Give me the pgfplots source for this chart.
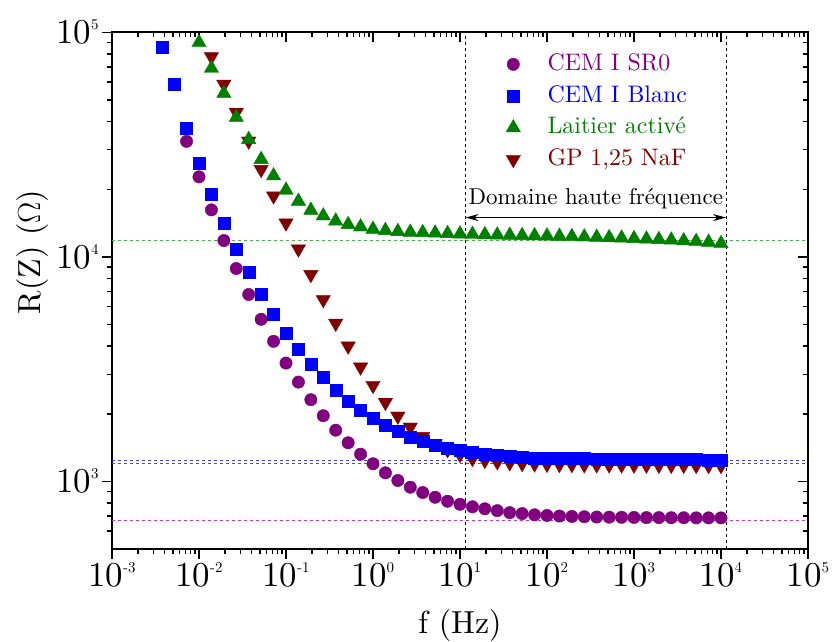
\RequirePackage{fix-cm}
\documentclass[border=0pt]{standalone}
\usepackage{fontspec}
\setmainfont{lmroman10-regular}[Extension=.otf]
\usepackage{pgfplots}
\pgfplotsset{compat=1.18}
\usetikzlibrary{arrows.meta}
\definecolor{cpur}{RGB}{128,0,128}
\definecolor{cblu}{RGB}{0,0,255}
\definecolor{cgrn}{RGB}{0,128,0}
\definecolor{cred}{RGB}{128,0,0}
\definecolor{lpur}{RGB}{190,60,200}
\definecolor{lblu}{RGB}{60,60,255}
\definecolor{lgrn}{RGB}{80,170,80}
\definecolor{lred}{RGB}{160,60,60}
\newcommand{\tl}[1]{10\raisebox{14bp}{\fontsize{15}{15}\selectfont #1}}

\pgfplotstableread{
f R
0.0071969 32680
0.01 22710
0.013895 16190
0.019307 11820
0.026827 8870
0.037276 6800
0.051795 5270
0.071969 4205
0.1 3365
0.13895 2768
0.19307 2311
0.26827 1961
0.37276 1691
0.51795 1486
0.71969 1322
1 1198
1.3895 1092
1.9307 1009
2.6827 942
3.7276 892
5.1795 850
7.1969 816
10 791
13.895 771
19.307 755
26.827 741
37.276 726
51.795 719
71.969 710
100 705
138.95 701
193.07 698
268.27 696
372.76 694
517.95 693
719.69 692
1000 691
1389.5 690
1930.7 690
2682.7 689
3727.6 689
5179.5 688
7196.9 688
10000 688
}\tabSR

\pgfplotstableread{
f R
0.0037276 85700
0.0051795 58650
0.0071969 37450
0.01 26150
0.013895 19010
0.019307 14160
0.026827 10840
0.037276 8510
0.051795 6790
0.071969 5530
0.1 4580
0.13895 3860
0.19307 3310
0.26827 2897
0.37276 2560
0.51795 2286
0.71969 2076
1 1913
1.3895 1775
1.9307 1668
2.6827 1574
3.7276 1510
5.1795 1456
7.1969 1409
10 1373
13.895 1345
19.307 1327
26.827 1309
37.276 1291
51.795 1282
71.969 1275
100 1270
138.95 1268
193.07 1266
268.27 1264
372.76 1262
517.95 1260
719.69 1258
1000 1257
1389.5 1255
1930.7 1254
2682.7 1252
3727.6 1251
5179.5 1250
7196.9 1249
10000 1248
}\tabBl

\pgfplotstableread{
f R
0.01 90000
0.013895 69100
0.019307 53460
0.026827 41790
0.037276 33340
0.051795 27160
0.071969 22950
0.1 19820
0.13895 17700
0.19307 16130
0.26827 15220
0.37276 14450
0.51795 13930
0.71969 13600
1 13280
1.3895 13100
1.9307 12970
2.6827 12880
3.7276 12830
5.1795 12760
7.1969 12700
10 12650
13.895 12600
19.307 12560
26.827 12520
37.276 12490
51.795 12450
71.969 12420
100 12390
138.95 12350
193.07 12310
268.27 12270
372.76 12230
517.95 12180
719.69 12130
1000 12070
1389.5 12010
1930.7 11950
2682.7 11880
3727.6 11800
5179.5 11720
7196.9 11620
10000 11460
}\tabLa

\pgfplotstableread{
f R
0.01 105000
0.013895 77850
0.019307 58650
0.026827 44000
0.037276 32760
0.051795 24500
0.071969 18680
0.1 14160
0.13895 10840
0.19307 8340
0.26827 6450
0.37276 5060
0.51795 4006
0.71969 3230
1 2676
1.3895 2249
1.9307 1953
2.6827 1745
3.7276 1585
5.1795 1471
7.1969 1383
10 1318
13.895 1265
19.307 1240
26.827 1222
37.276 1210
51.795 1202
71.969 1196
100 1192
138.95 1190
193.07 1188
268.27 1186
372.76 1185
517.95 1184
719.69 1183
1000 1182
1389.5 1181
1930.7 1180
2682.7 1180
3727.6 1179
5179.5 1178
7196.9 1177
10000 1176
}\tabGP

\pgfplotsset{
 sSR/.style={only marks, mark=*, mark size=6.2bp, color=cpur},
 sBl/.style={only marks, mark=square*, mark size=6bp, color=cblu},
 sLa/.style={only marks, mark=triangle*, mark size=8.3bp, color=cgrn},
 sGP/.style={only marks, mark=triangle*, mark size=8.3bp, color=cred, mark options={rotate=180}},
 hl/.style={line width=0.9bp, dash pattern=on 3bp off 3bp, forget plot},
}

\begin{document}
\begin{tikzpicture}
\useasboundingbox (0,0) rectangle (835bp,642bp);
\begin{loglogaxis}[
  at={(112bp,93bp)}, anchor=south west,
  scale only axis, width=696bp, height=516.7bp,
  xmin=1e-3, xmax=1e5, ymin=500, ymax=1e5,
  xtick={1e-3,1e-2,1e-1,1,1e1,1e2,1e3,1e4,1e5},
  ytick={1e3,1e4,1e5},
  minor xtick={2e-3,3e-3,4e-3,5e-3,6e-3,7e-3,8e-3,9e-3,
   2e-2,3e-2,4e-2,5e-2,6e-2,7e-2,8e-2,9e-2,
   0.2,0.3,0.4,0.5,0.6,0.7,0.8,0.9,
   2,3,4,5,6,7,8,9,
   20,30,40,50,60,70,80,90,
   200,300,400,500,600,700,800,900,
   2000,3000,4000,5000,6000,7000,8000,9000,
   20000,30000,40000,50000,60000,70000,80000,90000},
  minor ytick={600,700,800,900,2000,3000,4000,5000,6000,7000,8000,9000,
   20000,30000,40000,50000,60000,70000,80000,90000},
  axis line style={line width=1.8bp},
  tick style={black, line width=1.5bp},
  major tick length=10bp, minor tick length=5bp,
  xtick pos=top, ytick pos=right, tick align=inside,
  xticklabels={}, yticklabels={}]
\addplot[draw=none, forget plot] coordinates {(1,1000)};
\end{loglogaxis}
\begin{loglogaxis}[
  at={(112bp,93bp)}, anchor=south west,
  scale only axis, width=696bp, height=516.7bp,
  xmin=1e-3, xmax=1e5, ymin=500, ymax=1e5,
  xtick={1e-3,1e-2,1e-1,1,1e1,1e2,1e3,1e4,1e5},
  ytick={1e3,1e4,1e5},
  minor xtick={2e-3,3e-3,4e-3,5e-3,6e-3,7e-3,8e-3,9e-3,
   2e-2,3e-2,4e-2,5e-2,6e-2,7e-2,8e-2,9e-2,
   0.2,0.3,0.4,0.5,0.6,0.7,0.8,0.9,
   2,3,4,5,6,7,8,9,
   20,30,40,50,60,70,80,90,
   200,300,400,500,600,700,800,900,
   2000,3000,4000,5000,6000,7000,8000,9000,
   20000,30000,40000,50000,60000,70000,80000,90000},
  minor ytick={600,700,800,900,2000,3000,4000,5000,6000,7000,8000,9000,
   20000,30000,40000,50000,60000,70000,80000,90000},
  axis line style={line width=1.8bp},
  tick style={black, line width=1.5bp},
  major tick length=10bp, minor tick length=5bp,
  xtick pos=bottom, ytick pos=left, tick align=outside,
  xticklabels={\tl{-3},\tl{-2},\tl{-1},\tl{0},\tl{1},\tl{2},\tl{3},\tl{4},\tl{5}},
  yticklabels={\tl{3},\tl{4},\tl{5}},
  tick label style={font=\fontsize{35}{35}\selectfont},
  xlabel={f (Hz)}, ylabel={R(Z) ($\Omega$)},
  label style={font=\fontsize{32}{32}\selectfont},
  xlabel style={at={(axis description cs:0.5,-0.1645)}, anchor=base},
  ylabel style={at={(axis description cs:-0.1034,0.575)}, anchor=base},
  legend style={at={(axis description cs:0.566,0.9635)}, anchor=north west,
    draw=none, fill=none, inner sep=0pt, column sep=25bp, row sep=5.7bp,
    font=\fontsize{24}{24}\selectfont,
    nodes={text height=17bp, text depth=5bp, inner sep=2bp}},
  legend cell align=left,
]
\addplot[hl, color=lgrn] coordinates {(1e-3,11770) (1e5,11770)};
\addplot[hl, color=lblu] coordinates {(1e-3,1240) (1e5,1240)};
\addplot[hl, color=lred] coordinates {(1e-3,1198) (1e5,1198)};
\addplot[hl, color=lpur] coordinates {(1e-3,670) (1e5,670)};
\addplot[hl, color=black, line width=0.8bp] coordinates {(11.6,500) (11.6,1e5)};
\addplot[hl, color=black, line width=0.8bp] coordinates {(11400,500) (11400,1e5)};

\addplot[sGP, forget plot] table[x=f, y=R] {\tabGP};
\addplot[sSR, forget plot] table[x=f, y=R] {\tabSR};
\addplot[sBl, forget plot] table[x=f, y=R] {\tabBl};
\addplot[sLa, forget plot] table[x=f, y=R] {\tabLa};

\draw[{Stealth[length=13bp,width=7bp]}-{Stealth[length=13bp,width=7bp]}, line width=1bp]
  (axis cs:11.6,14960) -- (axis cs:11400,14960);
\node[anchor=base, font=\fontsize{23}{23}\selectfont] at (axis cs:365,17160) {Domaine haute fréquence};

\addlegendimage{sSR}
\addlegendentry{\textcolor{cpur}{CEM I SR0}}
\addlegendimage{sBl}
\addlegendentry{\textcolor{cblu}{CEM I Blanc}}
\addlegendimage{sLa}
\addlegendentry{\textcolor{cgrn}{Laitier activé}}
\addlegendimage{sGP}
\addlegendentry{\textcolor{cred}{GP 1,25 NaF}}
\end{loglogaxis}
\end{tikzpicture}
\end{document}
